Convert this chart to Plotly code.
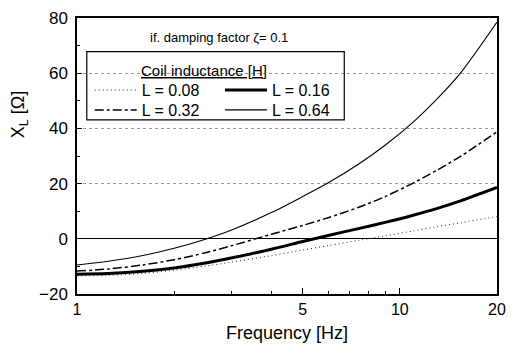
import plotly.graph_objects as go

# ---- data ----
freq_hz = [1, 1.25, 1.6, 2, 2.5, 3, 4, 5, 6, 7.5, 9, 11, 13, 15.5, 20]
x_L008 = [-13.4, -13.2, -12.5, -11.38, -9.88, -8.48, -6.08, -4.08, -2.48, -0.53, 1.05, 2.85, 4.35, 5.85, 8.1]
x_L016 = [-12.8, -12.55, -11.78, -10.58, -8.78, -6.98, -3.78, -0.98, 1.22, 3.77, 5.95, 8.55, 10.95, 13.83, 18.6]
x_L032 = [-11.7, -10.95, -9.48, -7.56, -5.06, -2.56, 1.64, 4.84, 7.64, 11.54, 15.29, 20.19, 24.79, 30.04, 38.8]
x_L064 = [-9.5, -8.13, -6.03, -3.43, -0.13, 3.1, 9.5, 15.3, 20.3, 27.3, 33.9, 42.3, 50.5, 60.4, 78.5]

series_names = ["L = 0.08", "L = 0.16", "L = 0.32", "L = 0.64"]
series_vals = [x_L008, x_L016, x_L032, x_L064]
x_tick_vals = [1, 5, 10, 20]
x_tick_text = ["1", "5", "10", "20"]
y_tick_vals = [-20, 0, 20, 40, 60, 80]

FONT = "Arial, Liberation Sans, sans-serif"

styles = [
    dict(color="#222", width=1, dash="1px,3px"),
    dict(color="black", width=3, dash="solid"),
    dict(color="black", width=1.5, dash="dashdot"),
    dict(color="black", width=1.1, dash="solid"),
]
legend_ids = ["legend", "legend2", "legend3", "legend4"]

fig = go.Figure()
for name, vals, st, lg in zip(series_names, series_vals, styles, legend_ids):
    fig.add_trace(go.Scatter(
        x=freq_hz, y=vals, mode="lines", name=name,
        line=dict(shape="spline", smoothing=0.8, **st),
        legend=lg,
    ))

W, H = 515, 349
ml, mr, mt, mb = 77, 9, 15, 55
pw, ph = W - ml - mr, H - mt - mb


def px_x(px):
    return (px - ml) / pw


def px_y(py):
    return (H - mb - py) / ph


leg_common = dict(bgcolor="rgba(0,0,0,0)", borderwidth=0,
                  font=dict(family=FONT, size=16, color="black"),
                  itemwidth=42, xanchor="left", yanchor="middle",
                  itemclick=False, itemdoubleclick=False)

fig.update_layout(
    width=W, height=H,
    margin=dict(l=ml, r=mr, t=mt, b=mb, pad=0),
    paper_bgcolor="white", plot_bgcolor="white",
    font=dict(family=FONT, color="black"),
    legend=dict(x=px_x(90), y=px_y(88), **leg_common),
    legend2=dict(x=px_x(223), y=px_y(88), **leg_common),
    legend3=dict(x=px_x(90), y=px_y(108), **leg_common),
    legend4=dict(x=px_x(223), y=px_y(108), **leg_common),
    xaxis=dict(
        type="log", range=[0, 1.30103],
        tickmode="array", tickvals=x_tick_vals, ticktext=x_tick_text,
        ticks="inside", ticklen=6, tickwidth=1, tickcolor="black",
        showline=True, linecolor="black", linewidth=1.5, mirror=True,
        showgrid=False, zeroline=False,
        tickfont=dict(family=FONT, size=16, color="black"),
        minor=dict(ticks="inside", ticklen=3, tickcolor="black",
                   tickmode="array", tickvals=[2, 3, 4, 6, 7, 8, 9], showgrid=False),
    ),
    yaxis=dict(
        range=[-20, 80], tickmode="array", tickvals=y_tick_vals,
        ticks="inside", ticklen=5, tickwidth=1, tickcolor="black",
        showline=True, linecolor="black", linewidth=1.5, mirror=True,
        showgrid=True, gridcolor="#9a9a9a", griddash="dot", gridwidth=1,
        zeroline=True, zerolinecolor="black", zerolinewidth=1.2,
        ticklabelstandoff=4,
        tickfont=dict(family=FONT, size=17, color="black"),
        minor=dict(ticks="inside", ticklen=3, tickcolor="black", dtick=10, showgrid=False),
    ),
    showlegend=True,
)

# legend frame
fig.add_shape(type="rect", xref="paper", yref="paper",
              x0=px_x(87), x1=px_x(350), y0=px_y(118), y1=px_y(49),
              line=dict(color="black", width=1.2), fillcolor="rgba(0,0,0,0)")

fig.add_annotation(text="<u>Coil inductance [H]</u>", xref="paper", yref="paper",
                   x=px_x(207), y=px_y(68), showarrow=False,
                   xanchor="center", yanchor="middle",
                   font=dict(family=FONT, size=15, color="black"))

fig.add_annotation(text="if. damping factor ζ= 0.1", xref="paper", yref="paper",
                   x=px_x(222), y=px_y(35), showarrow=False,
                   xanchor="center", yanchor="middle",
                   font=dict(family=FONT, size=13, color="black"))

fig.add_annotation(text="X<sub>L</sub> [Ω]", xref="paper", yref="paper",
                   x=px_x(19), y=px_y(112), showarrow=False, textangle=-90,
                   xanchor="center", yanchor="middle",
                   font=dict(family=FONT, size=18, color="black"))

fig.add_annotation(text="Frequency [Hz]", xref="paper", yref="paper",
                   x=0.5, y=px_y(333), showarrow=False,
                   xanchor="center", yanchor="middle",
                   font=dict(family=FONT, size=18, color="black"))

fig.write_html("out.html")
